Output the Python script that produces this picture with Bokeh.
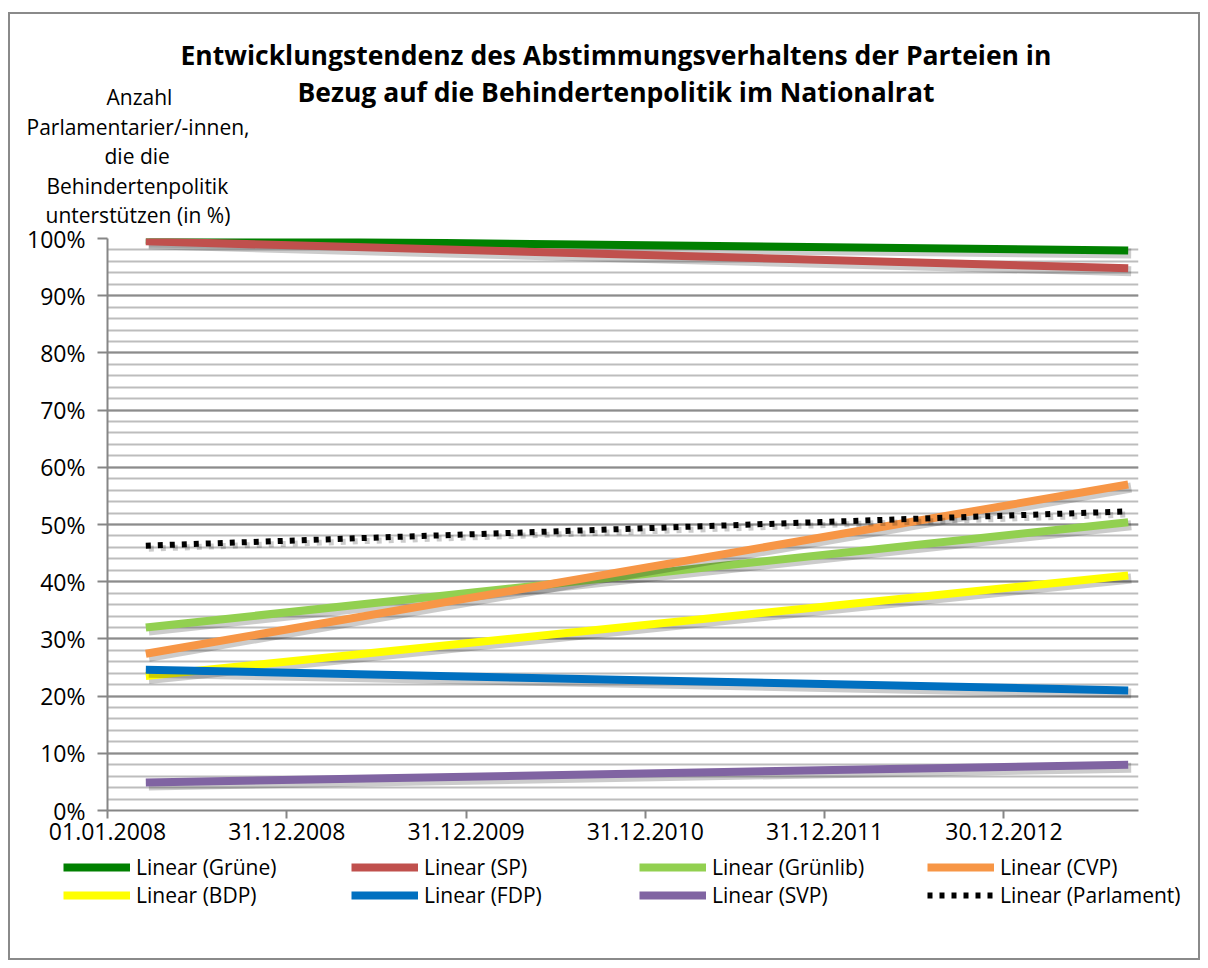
import datetime as dt
from bokeh.plotting import figure
from bokeh.layouts import column
from bokeh.models import Range1d, FixedTicker, Legend, LegendItem, Title
from bokeh.embed import file_html
from bokeh.resources import INLINE

# ---------------- data ----------------
dates = ["2008-03-19", "2013-09-09"]
gruene = [99.8, 97.9]
sp = [99.5, 94.8]
gruenlib = [32.0, 50.4]
cvp = [27.4, 57.0]
bdp = [23.5, 41.1]
fdp = [24.6, 21.0]
svp = [4.9, 8.0]
parlament = [46.3, 52.3]

series_names = ["Linear (Grüne)", "Linear (SP)", "Linear (Grünlib)", "Linear (CVP)",
                "Linear (BDP)", "Linear (FDP)", "Linear (SVP)", "Linear (Parlament)"]
series_colors = ["#008000", "#C0504D", "#92D050", "#F79646",
                 "#FFFF00", "#0070C0", "#8064A2", "#000000"]

x_tick_dates = ["2008-01-01", "2008-12-31", "2009-12-31", "2010-12-31", "2011-12-31", "2012-12-30"]
x_tick_labels = ["01.01.2008", "31.12.2008", "31.12.2009", "31.12.2010", "31.12.2011", "30.12.2012"]
x_axis_start = "2008-01-01"
x_axis_end = "2013-09-30"
y_ticks = [0, 10, 20, 30, 40, 50, 60, 70, 80, 90, 100]
y_tick_labels = ["0%", "10%", "20%", "30%", "40%", "50%", "60%", "70%", "80%", "90%", "100%"]
y_minor_ticks = list(range(0, 101, 2))

title_lines = ["Entwicklungstendenz des Abstimmungsverhaltens der Parteien in",
               "Bezug auf die Behindertenpolitik im Nationalrat"]
ylabel_lines = ["Anzahl", "Parlamentarier/-innen,", "die die", "Behindertenpolitik",
                "unterstützen (in %)"]


def ms(s):
    d = dt.datetime.strptime(s, "%Y-%m-%d").replace(tzinfo=dt.timezone.utc)
    return int(d.timestamp() * 1000)


FONT = "Open Sans"

# ---------------- layout (page px) ----------------
W = 1188
ORIGIN_X, ORIGIN_Y = 10, 14         # page position of the content box
PAGE_FRAME_L, PAGE_FRAME_R = 107, 1138
PAGE_FRAME_T, PAGE_FRAME_B = 238, 810
SPLIT_Y = 853                       # page y where the legend strip begins
PAGE_BOTTOM = 958

MAIN_H = SPLIT_Y - ORIGIN_Y
LEG_H = PAGE_BOTTOM - SPLIT_Y

xs, xe = ms(x_axis_start), ms(x_axis_end)
p = figure(width=W, height=MAIN_H,
           x_range=Range1d(xs, xe), y_range=Range1d(0, 100),
           output_backend="svg", toolbar_location=None,
           min_border_left=PAGE_FRAME_L - ORIGIN_X,
           min_border_right=ORIGIN_X + W - PAGE_FRAME_R,
           min_border_top=PAGE_FRAME_T - ORIGIN_Y,
           min_border_bottom=SPLIT_Y - PAGE_FRAME_B)
p.frame_align = False
p.outline_line_color = None
p.background_fill_color = "white"
p.border_fill_color = "white"

# ---------------- texts above the plot (stacked outward from the frame) ----------------
TH_NORMAL = 21 * 1.31       # estimated text box heights
TH_BOLD = 26.5 * 1.362
# (text, left edge in page px, row height, font size, bold)
rows = [
    (" ", 45, 22.5, "21px", False),
    (ylabel_lines[4], 45, 1, "21px", False),
    (ylabel_lines[3], 46, 57, "21px", False),
    (ylabel_lines[2], 104, 3, "21px", False),
    (ylabel_lines[1], 26, 55, "21px", False),
    (ylabel_lines[0], 106, 5, "21px", False),
    (title_lines[1], 297, 5, "26.5px", True),
    (title_lines[0], 180, 69, "26.5px", True),
]
for text, left, h, size, bold in rows:
    th = TH_BOLD if bold else TH_NORMAL
    p.add_layout(Title(text=text, align="left", vertical_align="middle",
                       offset=left - PAGE_FRAME_L, standoff=h - 2 - th,
                       text_font=FONT, text_font_size=size,
                       text_font_style="bold" if bold else "normal",
                       text_color="#000000"), "above")

# ---------------- shadows via shifted ranges ----------------
frame_w = PAGE_FRAME_R - PAGE_FRAME_L
frame_h = PAGE_FRAME_B - PAGE_FRAME_T
dx = 3 * (xe - xs) / frame_w
dy = 3 * 100 / frame_h
p.extra_x_ranges = {"sh": Range1d(xs - dx, xe - dx)}
p.extra_y_ranges = {"sh": Range1d(dy, 100 + dy)}

# ---------------- axes & grid ----------------
p.xaxis.ticker = FixedTicker(ticks=[ms(d) for d in x_tick_dates])
p.xaxis.major_label_overrides = {ms(d): lab for d, lab in zip(x_tick_dates, x_tick_labels)}
p.yaxis.ticker = FixedTicker(ticks=y_ticks, minor_ticks=y_minor_ticks)
p.yaxis.major_label_overrides = {t: lab for t, lab in zip(y_ticks, y_tick_labels)}

for ax in (p.xaxis[0], p.yaxis[0]):
    ax.axis_line_color = "#868686"
    ax.axis_line_width = 2
    ax.major_tick_line_color = "#868686"
    ax.major_tick_line_width = 2
    ax.major_tick_in = 0
    ax.minor_tick_line_color = None
    ax.major_label_text_font = FONT
    ax.major_label_text_font_size = "23px"
    ax.major_label_text_color = "#000000"
p.xaxis.major_tick_out = 8
p.xaxis.major_label_standoff = 4
p.yaxis.major_tick_out = 10
p.yaxis.major_label_standoff = 12

p.xgrid.grid_line_color = None
p.ygrid.grid_line_color = "#8c8c8c"
p.ygrid.grid_line_width = 2
p.ygrid.minor_grid_line_color = "#bdbdbd"
p.ygrid.minor_grid_line_width = 2

# ---------------- lines ----------------
x_ms = [ms(d) for d in dates]
all_series = [gruene, sp, gruenlib, cvp, bdp, fdp, svp, parlament]

for vals, col, name in zip(all_series, series_colors, series_names):
    dotted = name == "Linear (Parlament)"
    p.line(x_ms, vals, line_color="#000000", line_alpha=0.2,
           line_width=6 if dotted else 10,
           line_dash="5 7" if dotted else "solid",
           x_range_name="sh", y_range_name="sh")
    p.line(x_ms, vals, line_color=col,
           line_width=6 if dotted else 8,
           line_dash="5 7" if dotted else "solid",
           line_cap="butt")

# ---------------- legend strip (own full-width frame) ----------------
leg = figure(width=W, height=LEG_H, x_range=Range1d(0, 1), y_range=Range1d(0, 1),
             output_backend="svg", toolbar_location=None,
             x_axis_location=None, y_axis_location=None, min_border=0)
leg.frame_align = False
leg.grid.grid_line_color = None
leg.outline_line_color = None
leg.background_fill_color = "white"
leg.border_fill_color = "white"

# legend carriers: same series, lying outside this strip's visible range
proxies = []
for vals, col, name in zip(all_series, series_colors, series_names):
    dotted = name == "Linear (Parlament)"
    proxies.append(leg.line(x_ms, vals, line_color=col,
                            line_width=6 if dotted else 8,
                            line_dash="5 7" if dotted else "solid",
                            line_cap="butt"))

TH_LEG = 21 * 1.31
for row, center_y in ((0, 867), (1, 895)):
    items = [LegendItem(label=series_names[k], renderers=[proxies[k]])
             for k in range(row * 4, row * 4 + 4)]
    bottom = center_y + TH_LEG / 2
    lg = Legend(items=items, location=(63 - ORIGIN_X, PAGE_BOTTOM - bottom),
                orientation="horizontal",
                glyph_width=67, glyph_height=20, label_standoff=6,
                label_width=212, spacing=3, padding=0, margin=0,
                label_text_font=FONT, label_text_font_size="21px",
                label_text_color="#000000",
                border_line_color=None, background_fill_alpha=0)
    leg.add_layout(lg)

layout = column(p, leg, spacing=0,
                styles={"border": "2px solid #8a8a8a", "margin-left": "8px",
                        "margin-top": "12px", "background-color": "white"})

open("out.html", "w").write(file_html(layout, INLINE))
